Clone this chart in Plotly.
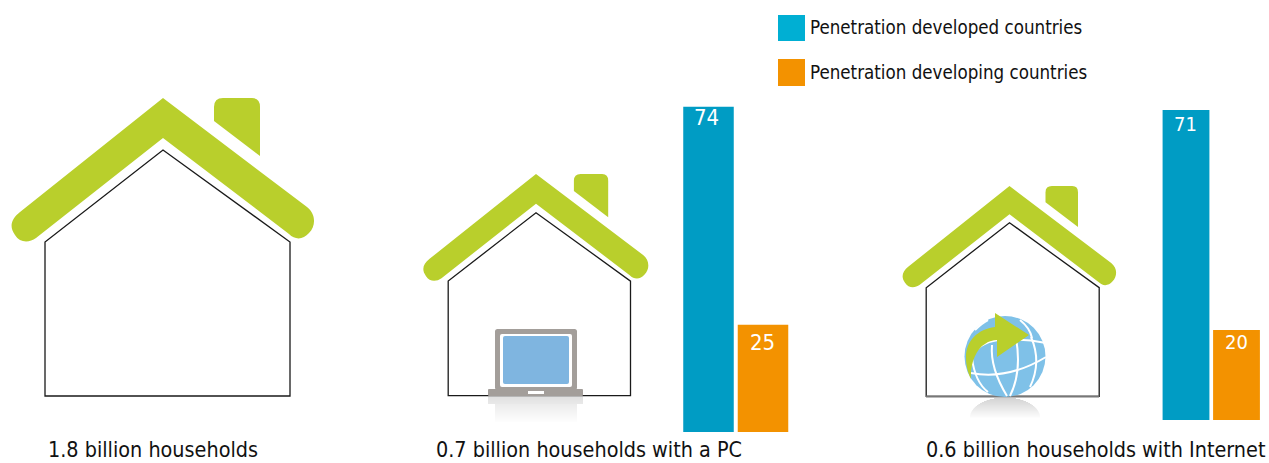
import math
import plotly.graph_objects as go

# ---- data ----
SERIES = ["Penetration developed countries", "Penetration developing countries"]
PC_VALUES = [74, 25]
INTERNET_VALUES = [71, 20]
CAPTIONS = ["1.8 billion households", "0.7 billion households with a PC", "0.6 billion households with Internet"]

# ---- style ----
BLUE = "#009CC4"
ORANGE = "#F39200"
LEG_BLUE = "#00AFD3"
GREEN = "#B9CF2C"
GRAY = "#A39E9A"
SCREEN = "#7FB5E0"
GLOBE = "#7FC1E8"
FONT = "DejaVu Sans Condensed, DejaVu Sans"
W, H = 1269, 463

PC_RANGE = [0.92, 75.5]
NET_RANGE = [-0.86, 73.3]

fig = go.Figure()
bar_colors = [BLUE, ORANGE]
annotations = []

def add_bars(values, rng, xa, ya, size, shifts):
    fig.add_trace(go.Bar(
        x=SERIES, y=[v - rng[0] for v in values], base=rng[0],
        marker=dict(color=bar_colors, line=dict(width=0)),
        cliponaxis=True, xaxis=xa, yaxis=ya, showlegend=False, hoverinfo="skip"))
    for name, v, (dx, dy) in zip(SERIES, values, shifts):
        annotations.append(dict(xref=xa, yref=ya, x=name, y=v, text=str(v), showarrow=False,
                                xanchor="center", yanchor="middle", xshift=dx, yshift=dy,
                                font=dict(family=FONT, size=size, color="white")))

add_bars(PC_VALUES, PC_RANGE, "x", "y", 22, [(-2.5, -11), (-1, -18)])
add_bars(INTERNET_VALUES, NET_RANGE, "x2", "y2", 20, [(-1, -14), (-0.5, -12)])

shapes = []
def px_shape(**kw):
    kw.setdefault("line", dict(width=0))
    shapes.append(dict(xref="x3", yref="y3", layer="above", **kw))

def house(scale, ox, oy):
    """Draw a house; coordinates are template pixels mapped by scale and origin."""
    def p(x, y):
        return f"{ox + (x - 163) * scale:.1f},{oy + (y - 98) * scale:.1f}"
    roof = (f"M{p(163,98)} L{p(307,207)} C{p(316,214)} {p(316,226)} {p(309,233)} "
            f"C{p(303,240)} {p(295,240)} {p(289,234)} L{p(163,138)} L{p(36,238)} "
            f"C{p(29,243)} {p(20,243)} {p(15,235)} C{p(9,227)} {p(11,219)} {p(20,212)} Z")
    chim = (f"M{p(214,121)} L{p(214,107)} Q{p(214,98)} {p(223,98)} L{p(252,98)} "
            f"Q{p(260,98)} {p(260,107)} L{p(260,156)} Z")
    body = f"M{p(45,396)} L{p(45,242)} L{p(163,150)} L{p(290,242)} L{p(290,396)} Z"
    px_shape(type="path", path=body, line=dict(color="#1a1a1a", width=1.3), fillcolor="white")
    px_shape(type="path", path=roof, fillcolor=GREEN)
    px_shape(type="path", path=chim, fillcolor=GREEN)

house(1.0, 163, 98)
house(0.744, 536.0, 174)
house(0.706, 1009.5, 186)
# third house has a heavier grey floor line
px_shape(type="line", x0=926, x1=1099, y0=396.5, y1=396.5, line=dict(color="#777777", width=2))

def rrect(x0, y0, x1, y1, r, color):
    path = (f"M{x0+r},{y0} L{x1-r},{y0} Q{x1},{y0} {x1},{y0+r} L{x1},{y1-r} Q{x1},{y1} {x1-r},{y1} "
            f"L{x0+r},{y1} Q{x0},{y1} {x0},{y1-r} L{x0},{y0+r} Q{x0},{y0} {x0+r},{y0} Z")
    px_shape(type="path", path=path, fillcolor=color)

# laptop reflection
for i in range(8):
    px_shape(type="rect", x0=488, x1=583, y0=396 + i, y1=397 + i,
             fillcolor=f"rgba(150,150,150,{0.30 - i * 0.012:.3f})")
for i in range(18):
    px_shape(type="rect", x0=495, x1=577, y0=404 + i, y1=405 + i,
             fillcolor=f"rgba(150,150,150,{max(0.01, 0.18 - i * 0.0095):.3f})")
# laptop
rrect(495, 329, 577, 390, 2.5, GRAY)
rrect(500, 334, 572, 387, 2, "white")
rrect(503, 336, 569, 384, 2, SCREEN)
rrect(488, 389, 583, 396, 1, GRAY)
px_shape(type="rect", x0=528, x1=544, y0=391, y1=394, fillcolor="white")

# globe reflection
gx, gy, gr, gh = 1005, 398, 35, 20
for i in range(gh):
    half = gr * math.sqrt(max(0, 1 - (1 - (i + 1) / gh) ** 2))
    px_shape(type="rect", x0=gx - half, x1=gx + half, y0=gy + i, y1=gy + i + 1,
             fillcolor=f"rgba(140,140,140,{max(0.01, 0.38 - i * 0.019):.3f})")

# globe
cx, cy, r = 1005, 356.5, 40.5
px_shape(type="circle", x0=cx - r, x1=cx + r, y0=cy - r, y1=cy + r, fillcolor=GLOBE)
grid = [
    "M971,373 Q1008,380 1046,357",
    "M998,340 Q1022,338 1046,343",
    "M972,358 Q975,382 988,392",
    "M992,345 Q990,368 1007,396",
    "M1016,338 Q1022,372 1010,396",
    "M1031,337 Q1042,362 1030,387",
    "M1020,320 Q1030,328 1032,338",
    "M975,330 Q982,323 988,320",
    "M972,357 Q978,343 998,340",
]
for g in grid:
    px_shape(type="path", path=g, line=dict(color="white", width=2))
arrow = ("M1029,335 L995,313 L995,327 C978,329 966,341 966,357 C966,366 968,373 971,379 "
         "C970,364 976,349 985,344 C989,341 993,340 997,340 L997,357 Z")
px_shape(type="path", path=arrow, fillcolor=GREEN)

# legend swatches
px_shape(type="rect", x0=778, x1=805, y0=15, y1=41, fillcolor=LEG_BLUE)
px_shape(type="rect", x0=778, x1=805, y0=59, y1=86, fillcolor=ORANGE)

def label(x, y, text, size):
    annotations.append(dict(xref="x3", yref="y3", x=x, y=y, text=text, showarrow=False,
                            xanchor="left", yanchor="middle", borderpad=0,
                            font=dict(family=FONT, size=size, color="#111111")))
label(809, 27, SERIES[0], 18.6)
label(809, 72, SERIES[1], 18.6)
label(47, 449, CAPTIONS[0], 21.4)
label(435, 449, CAPTIONS[1], 21.4)
label(925, 449, CAPTIONS[2], 21.4)

def dom(a, b):
    return [a / W, b / W]
def vdom(top, bottom):
    return [1 - bottom / H, 1 - top / H]

hidden = dict(visible=False, fixedrange=True)
fig.update_layout(
    width=W, height=H, autosize=False, margin=dict(l=0, r=0, t=0, b=0, pad=0),
    paper_bgcolor="white", plot_bgcolor="rgba(0,0,0,0)", bargap=0.073, showlegend=False,
    xaxis=dict(domain=dom(681.25, 790.25), **hidden),
    yaxis=dict(domain=vdom(100, 432), range=[PC_RANGE[0], PC_RANGE[1]], **hidden),
    xaxis2=dict(domain=dom(1160.75, 1261.75), anchor="y2", **hidden),
    yaxis2=dict(domain=vdom(100, 420), anchor="x2", range=NET_RANGE, **hidden),
    xaxis3=dict(domain=[0, 1], range=[0, W], anchor="y3", **hidden),
    yaxis3=dict(domain=[0, 1], range=[H, 0], anchor="x3", **hidden),
    shapes=shapes, annotations=annotations,
)
fig.add_trace(go.Scatter(x=[0], y=[0], xaxis="x3", yaxis="y3", mode="markers",
                         marker=dict(opacity=0), showlegend=False, hoverinfo="skip"))
fig.write_html("out.html", config=dict(displayModeBar=False),
               post_script="document.body.style.margin='0';document.body.style.overflow='hidden';")
